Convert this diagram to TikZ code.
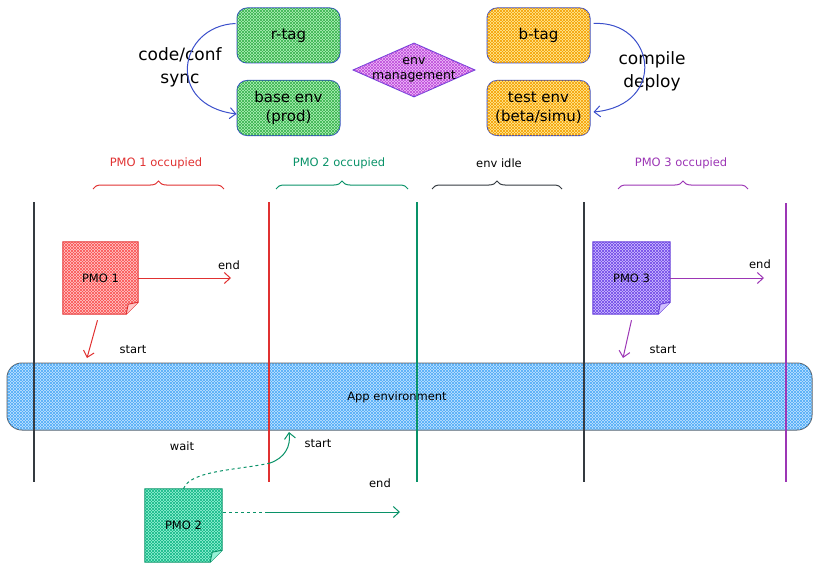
\documentclass[tikz,border=0pt]{standalone}
\usepackage{fontspec}
\setmainfont{DejaVu Sans}
\usetikzlibrary{shapes.geometric,arrows.meta,decorations.pathreplacing,patterns,backgrounds,calc}

% palette
\definecolor{boxblue}{HTML}{3B4FCB}
\definecolor{grfill}{HTML}{B2F2BB}
\definecolor{grhatch}{HTML}{37B24D}
\definecolor{ylfill}{HTML}{FFEC99}
\definecolor{ylhatch}{HTML}{F59F00}
\definecolor{vifill}{HTML}{EEBEFA}
\definecolor{vihatch}{HTML}{BE4BDB}
\definecolor{rdfill}{HTML}{FFC9C9}
\definecolor{rdhatch}{HTML}{FA5252}
\definecolor{rdline}{HTML}{E03131}
\definecolor{tlfill}{HTML}{96F2D7}
\definecolor{tlhatch}{HTML}{12B886}
\definecolor{tlline}{HTML}{099268}
\definecolor{pufill}{HTML}{D0BFFF}
\definecolor{puhatch}{HTML}{7048E8}
\definecolor{puedge}{HTML}{6741D9}
\definecolor{puline}{HTML}{9C36B5}
\definecolor{blfill}{HTML}{C5E4FF}
\definecolor{blhatch}{HTML}{4DABF7}
\definecolor{inkgray}{HTML}{343A40}

\newcommand\fsBox{\fontsize{15}{19}\selectfont}
\newcommand\fsSide{\fontsize{17}{23}\selectfont}
\newcommand\fsDia{\fontsize{12.5}{15}\selectfont}
\newcommand\fsLbl{\fontsize{11.5}{14}\selectfont}

% a sticky note: body with a folded lower-right corner, drawn behind its text node
\newcommand\drawnote[4]{%
  \begin{scope}[on background layer]
    \draw[line width=1pt, draw=#4, hatched={#2}{#3}]
      (#1.north west) -- (#1.north east) -- ([yshift=12pt]#1.south east)
      -- ([xshift=-12pt]#1.south east) -- (#1.south west) -- cycle;
    \draw[line width=0.9pt, draw=#4, fill=#2]
      ([yshift=12pt]#1.south east) -- ([xshift=-10pt,yshift=10pt]#1.south east)
      -- ([xshift=-12pt]#1.south east);
  \end{scope}}

\begin{document}
\begin{tikzpicture}[x=1pt,y=-1pt,
  >={Straight Barb[length=6pt,width=11pt]},
  hatched/.style 2 args={fill=#1,
    postaction={pattern=north east lines, pattern color=#2},
    postaction={pattern=north west lines, pattern color=#2}},
  tagbox/.style={rectangle, rounded corners=10pt, draw=boxblue, line width=1pt,
    minimum width=103pt, minimum height=55pt, inner sep=0pt, align=center, font=\fsBox},
  notebox/.style={rectangle, minimum width=76pt, minimum height=72pt, inner sep=0pt, font=\fsLbl},
  lbl/.style={font=\fsLbl, inner sep=1pt},
  vline/.style={line width=1.3pt},
  flow/.style={line width=1pt, ->},
  occbrace/.style={line width=1pt, decorate, decoration={brace, amplitude=8pt}},
]
\useasboundingbox (0,0) rectangle (814,578);

% ---------- environment tags ----------
\node[tagbox, hatched={grfill}{grhatch}] (rt) at (288.5,35.5) {r-tag};
\node[tagbox, hatched={grfill}{grhatch}] (be) at (288.5,108) {base env\\(prod)};
\node[tagbox, hatched={ylfill}{ylhatch}] (bt) at (538.5,35.5) {b-tag};
\node[tagbox, hatched={ylfill}{ylhatch}] (te) at (538.5,108) {test env\\(beta/simu)};
\node[diamond, aspect=2.2, minimum width=122pt, minimum height=54pt, inner sep=-5pt,
      draw=puedge, line width=1pt, hatched={vifill}{vihatch}, align=center, font=\fsDia]
      (dm) at (414,70) {env\\management};

\node[font=\fsSide, align=center] (sync) at (180,67) {code/conf\\sync};
\node[font=\fsSide, align=center] (comp) at (652,71) {compile\\deploy};

\draw[flow, boxblue] ($(rt.north west)+(-1,16)$) .. controls (178,26) and (165,105) .. ($(be.north west)+(0,34)$);
\draw[flow, boxblue] ($(bt.north east)+(3,16)$) .. controls (655,20) and (668,105) .. ($(te.north east)+(3,32)$);

% ---------- occupation braces ----------
\coordinate (b1l) at (93,189);  \coordinate (b1r) at (224,189);
\coordinate (b2l) at (276,189); \coordinate (b2r) at (408,189);
\coordinate (b3l) at (432,189); \coordinate (b3r) at (562,189);
\coordinate (b4l) at (618,189); \coordinate (b4r) at (748,189);
\draw[occbrace, rdline] (b1l) -- (b1r);
\draw[occbrace, tlline] (b2l) -- (b2r);
\draw[occbrace, inkgray] (b3l) -- (b3r);
\draw[occbrace, puline] (b4l) -- (b4r);
\node[lbl, text=rdline] (o1) at (156,163) {PMO 1 occupied};
\node[lbl, text=tlline] (o2) at (339,163) {PMO 2 occupied};
\node[lbl] (o3) at (499,163) {env idle};
\node[lbl, text=puline] (o4) at (681,163) {PMO 3 occupied};

% ---------- shared app environment ----------
\node[rectangle, rounded corners=15pt, draw=inkgray!80, line width=1pt,
      minimum width=805pt, minimum height=67pt, hatched={blfill}{blhatch}] (app) at (409.5,396.5) {};
\node[lbl] (applbl) at (397,397) {App environment};

% ---------- time markers ----------
\coordinate (v1t) at (34,202);  \coordinate (v1b) at (34,482);
\coordinate (v2t) at (269,202); \coordinate (v2b) at (269,482);
\coordinate (v3t) at (417,202); \coordinate (v3b) at (417,482);
\coordinate (v4t) at (584,202); \coordinate (v4b) at (584,482);
\coordinate (v5t) at (786,203); \coordinate (v5b) at (786,482);
\draw[vline, inkgray] (v1t) -- (v1b);
\draw[vline, rdline] (v2t) -- (v2b);
\draw[vline, tlline] (v3t) -- (v3b);
\draw[vline, inkgray] (v4t) -- (v4b);
\draw[vline, puline] (v5t) -- (v5b);

% ---------- PMO 1 ----------
\node[notebox, minimum width=75pt] (p1) at (100.5,278) {PMO 1};
\drawnote{p1}{rdfill}{rdhatch}{rdline}
\coordinate (p1end) at (231,278);
\coordinate (p1start) at (87,358);
\draw[flow, rdline] (p1.east) -- (p1end);
\draw[flow, rdline] ([xshift=-3pt,yshift=-6pt]p1.south) -- (p1start);
\node[lbl] (p1endl) at (229,265) {end};
\node[lbl] (p1startl) at (133,350) {start};

% ---------- PMO 3 ----------
\node[notebox, minimum width=77pt] (p3) at (631.5,278) {PMO 3};
\drawnote{p3}{pufill}{puhatch}{puedge}
\coordinate (p3end) at (764,278);
\coordinate (p3start) at (623,358);
\draw[flow, puline] (p3.east) -- (p3end);
\draw[flow, puline] ([yshift=-6pt]p3.south) -- (p3start);
\node[lbl] (p3endl) at (760,264) {end};
\node[lbl] (p3startl) at (663,350) {start};

% ---------- PMO 2 (waiting) ----------
\node[lbl] (waitl) at (182,446) {wait};
\node[notebox, minimum width=77pt, minimum height=73pt] (p2) at (183.5,525.5) {PMO 2};
\drawnote{p2}{tlfill}{tlhatch}{tlline}
\coordinate (p2mid) at (270,463);
\coordinate (p2start) at (289,432);
\coordinate (p2dash) at (268,512);
\coordinate (p2end) at (400,512);
\draw[line width=1pt, tlline, dashed] (p2.north) .. controls (190,470) and (240,470) .. (p2mid);
\draw[flow, tlline] (p2mid) .. controls (285,458) and (291,446) .. (p2start);
\draw[line width=1pt, tlline, dashed] ($(p2.east)+(1,-13.5)$) -- (p2dash);
\draw[flow, tlline] (p2dash) -- (p2end);
\node[lbl] (p2startl) at (318,444) {start};
\node[lbl] (p2endl) at (380,483) {end};
\end{tikzpicture}
\end{document}
